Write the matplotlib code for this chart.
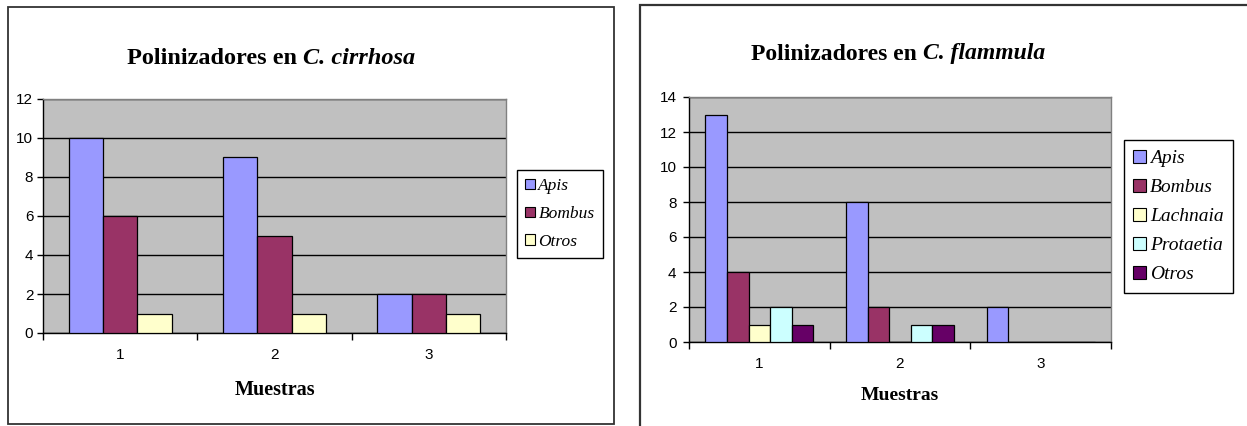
import matplotlib
matplotlib.use('Agg')
import matplotlib.pyplot as plt
import matplotlib.patches as mpatches
from matplotlib.font_manager import FontProperties
import numpy as np

plt.rcParams['font.family'] = 'Liberation Sans'

# Counts of visitors per sample (Muestras 1-3)
muestras = ['1', '2', '3']

cirrhosa_series = ['Apis', 'Bombus', 'Otros']
cirrhosa_apis = [10, 9, 2]
cirrhosa_bombus = [6, 5, 2]
cirrhosa_otros = [1, 1, 1]

flammula_series = ['Apis', 'Bombus', 'Lachnaia', 'Protaetia', 'Otros']
flammula_apis = [13, 8, 2]
flammula_bombus = [4, 2, 0]
flammula_lachnaia = [1, 0, 0]
flammula_protaetia = [2, 1, 0]
flammula_otros = [1, 1, 0]

cirrhosa_colors = ['#9999FF', '#993366', '#FFFFCC']
flammula_colors = ['#9999FF', '#993366', '#FFFFCC', '#CCFFFF', '#660066']

W, H = 1247, 426


def px_rect(x0, y0, x1, y1):
    """Convert pixel box (top-left origin) to figure fraction [l, b, w, h]."""
    return [x0 / W, 1 - y1 / H, (x1 - x0) / W, (y1 - y0) / H]


def excel_bars(ax, values, colors, ymax, tick_size, ypad, xpad):
    n = len(values)
    x = np.arange(1, len(muestras) + 1)
    width = 1.0 / (n + 1.5)
    for j, (vals, c) in enumerate(zip(values, colors)):
        off = (j - (n - 1) / 2) * width
        ax.bar(x + off, vals, width, color=c, edgecolor='black', linewidth=0.9, zorder=3)

    ax.set_facecolor('#C0C0C0')
    ax.set_xlim(0.5, len(muestras) + 0.5)
    ax.set_ylim(0, ymax)
    ax.set_yticks(np.arange(0, ymax + 1, 2))
    ax.grid(True, axis='y', color='black', linewidth=1.0, zorder=1)
    ax.set_axisbelow(True)

    # category separators as major ticks, labels on minor ticks
    ax.set_xticks(np.arange(0.5, len(muestras) + 1, 1.0))
    ax.set_xticklabels([])
    ax.set_xticks(x, minor=True)
    ax.set_xticklabels(muestras, minor=True)
    ax.tick_params(axis='x', which='major', direction='out', length=5, width=1, color='black')
    ax.tick_params(axis='x', which='minor', length=0, pad=xpad, labelsize=tick_size)
    ax.tick_params(axis='y', direction='out', length=4, width=1, pad=ypad, labelsize=tick_size)

    for s in ['top', 'right']:
        ax.spines[s].set_color('#808080')
        ax.spines[s].set_linewidth(1.0)
    for s in ['left', 'bottom']:
        ax.spines[s].set_color('black')
        ax.spines[s].set_linewidth(1.0)


def add_legend(fig, labels, colors, center, size, spacing, handle):
    prop = FontProperties(family='Liberation Serif', style='italic', size=size)
    patches = [mpatches.Patch(facecolor=c, edgecolor='black', linewidth=0.8, label=l)
               for c, l in zip(colors, labels)]
    leg = fig.legend(handles=patches, loc='center', bbox_to_anchor=center,
                     bbox_transform=fig.transFigure, prop=prop, frameon=True,
                     fancybox=False, framealpha=1, edgecolor='black',
                     handlelength=handle, handleheight=handle, handletextpad=0.2,
                     labelspacing=spacing, borderpad=0.5, borderaxespad=0)
    leg.get_frame().set_linewidth(1.0)
    return leg


def add_title(fig, cx, cy, plain, species, size):
    """Bold title with the species name in bold italic, centred at (cx, cy) pixels."""
    renderer = fig.canvas.get_renderer()
    kw = dict(family='Liberation Serif', fontweight='bold', fontsize=size, va='center', ha='left')
    t1 = fig.text(0, 1 - cy / H, plain, **kw)
    t2 = fig.text(0, 1 - cy / H, species, style='italic', **kw)
    probe = fig.text(0, 0, 'n n', **kw)
    probe2 = fig.text(0, 0, 'nn', **kw)
    space = probe.get_window_extent(renderer).width - probe2.get_window_extent(renderer).width
    probe.remove()
    probe2.remove()
    w1 = t1.get_window_extent(renderer).width
    w2 = t2.get_window_extent(renderer).width
    x0 = cx - (w1 + space + w2) / 2
    t1.set_x(x0 / W)
    t2.set_x((x0 + w1 + space) / W)


fig = plt.figure(figsize=(W / 100, H / 100), dpi=100)
fig.patch.set_facecolor('white')

# chart frames
fig.add_artist(mpatches.Rectangle((8 / W, 1 - 424 / H), (614 - 8) / W, (424 - 7) / H,
                                  transform=fig.transFigure, fill=False,
                                  edgecolor='#333333', linewidth=1.3))
fig.add_artist(mpatches.Rectangle((640 / W, -0.05), (1260 - 640) / W, 1.05 - 5 / H,
                                  transform=fig.transFigure, fill=False,
                                  edgecolor='#333333', linewidth=1.6))

# C. cirrhosa
ax1 = fig.add_axes(px_rect(43, 99, 506, 333))
excel_bars(ax1, [cirrhosa_apis, cirrhosa_bombus, cirrhosa_otros], cirrhosa_colors,
           12, 11, 3, 11)
add_title(fig, 271, 58, 'Polinizadores en', 'C. cirrhosa', 17.5)
fig.text(275 / W, 1 - 390 / H, 'Muestras', ha='center', va='center',
         family='Liberation Serif', fontweight='bold', fontsize=14.5)
add_legend(fig, cirrhosa_series, cirrhosa_colors, (560 / W, 1 - 214 / H), 12.5, 0.68, 0.55)

# C. flammula
ax2 = fig.add_axes(px_rect(689, 97, 1111, 342))
excel_bars(ax2, [flammula_apis, flammula_bombus, flammula_lachnaia, flammula_protaetia,
                 flammula_otros], flammula_colors, 14, 11, 5, 11)
add_title(fig, 898, 54, 'Polinizadores en', 'C. flammula', 17)
fig.text(900 / W, 1 - 395 / H, 'Muestras', ha='center', va='center',
         family='Liberation Serif', fontweight='bold', fontsize=14)
add_legend(fig, flammula_series, flammula_colors, (1178.5 / W, 1 - 216.5 / H), 14, 0.6, 0.65)

fig.savefig('out.png', dpi=100, facecolor='white')
